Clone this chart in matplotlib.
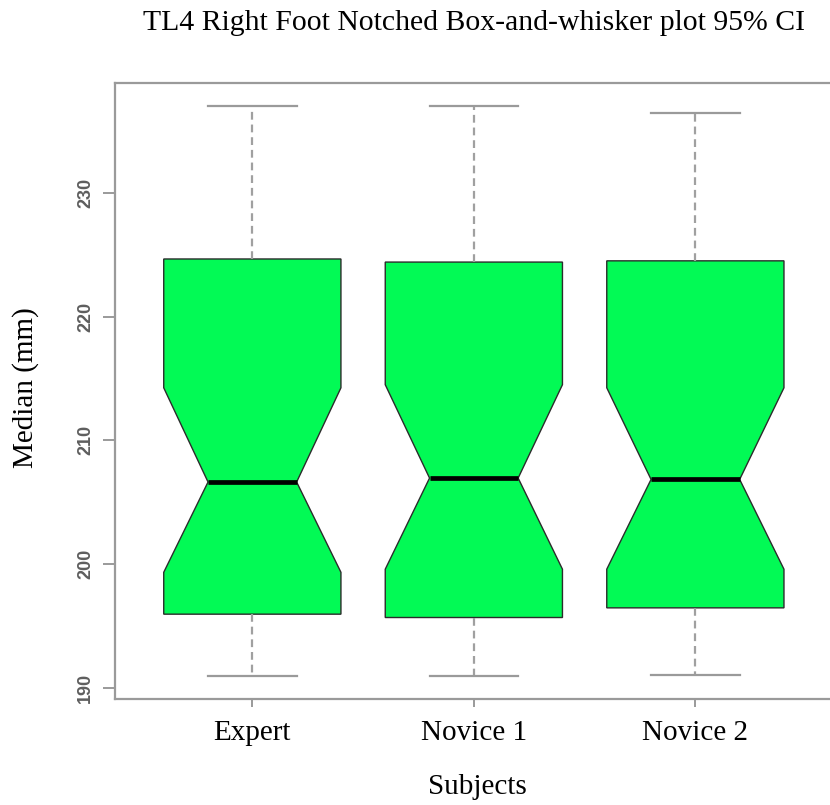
import matplotlib
matplotlib.use("Agg")
import matplotlib.pyplot as plt

# Summary statistics per subject (mm)
subjects = ["Expert", "Novice 1", "Novice 2"]
whisker_low = [190.94, 190.94, 191.07]
q1 = [195.97, 195.70, 196.48]
median = [206.64, 206.96, 206.85]
q3 = [224.65, 224.40, 224.50]
whisker_high = [237.02, 237.04, 236.45]
ci_low = [199.35, 199.60, 199.60]
ci_high = [214.25, 214.50, 214.25]

title = "TL4 Right Foot Notched Box-and-whisker plot 95% CI"
serif = ["Liberation Serif", "DejaVu Serif"]
sans = ["Liberation Sans", "DejaVu Sans"]

stats = []
for i, name in enumerate(subjects):
    stats.append(dict(label=name, whislo=whisker_low[i], q1=q1[i], med=median[i],
                      q3=q3[i], whishi=whisker_high[i], cilo=ci_low[i],
                      cihi=ci_high[i], fliers=[]))

fig = plt.figure(figsize=(8.3, 8.05), dpi=100)
W, H = 830, 805
left, right, top, bottom = 115, 832.7, 82.7, 699.3
ax = fig.add_axes([left / W, 1 - bottom / H, (right - left) / W, (bottom - top) / H])

positions = list(range(1, len(subjects) + 1))
frame_grey = "#9a9a9a"
ax.bxp(stats, positions=positions, widths=0.8, shownotches=True, patch_artist=True,
       showfliers=False,
       boxprops=dict(facecolor="#02fa55", edgecolor="#2b2b2b", linewidth=1.0),
       medianprops=dict(color="black", linewidth=3.4, solid_capstyle="butt"),
       whiskerprops=dict(color="#a0a0a0", linestyle=(0, (3.5, 2.2)), linewidth=1.6),
       capprops=dict(color=frame_grey, linewidth=1.6))

# R-style axis extents: 4% padding on the data range
lo, hi = min(whisker_low), max(whisker_high)
pad = 0.04 * (hi - lo)
ax.set_ylim(lo - pad, hi + pad)
ax.set_xlim(0.5 - 0.12, len(subjects) + 0.5 + 0.12)

for s in ax.spines.values():
    s.set_color(frame_grey)
    s.set_linewidth(1.6)

ax.set_yticks([190, 200, 210, 220, 230])
ax.set_yticklabels(["190", "200", "210", "220", "230"], rotation=90, va="center",
                   family=sans, fontsize=13, fontweight="bold", color="#5e5e5e")
ax.set_xticks(positions)
ax.set_xticklabels(subjects, family=serif, fontsize=21, color="black")
ax.tick_params(axis="y", direction="out", length=9, width=1.4, color=frame_grey, pad=6)
ax.tick_params(axis="x", direction="out", length=6, width=1.4, color=frame_grey, pad=9)

fig.text(474 / W, 1 - 23 / H, title, ha="center", va="center", family=serif, fontsize=21.4)
fig.text(477 / W, 1 - 787 / H, "Subjects", ha="center", va="center", family=serif, fontsize=21)
fig.text(26 / W, 1 - 388 / H, "Median (mm)", ha="center", va="center", rotation=90,
         family=serif, fontsize=21)

fig.savefig("out.png", dpi=100)
